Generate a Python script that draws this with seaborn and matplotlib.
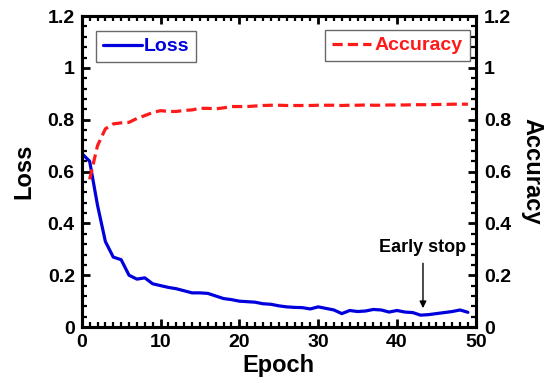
import numpy as np
import pandas as pd
import matplotlib
matplotlib.use("Agg")
import matplotlib.pyplot as plt
import seaborn as sns

# Values
epochs = list(range(50))
loss = [0.67, 0.64, 0.47, 0.33, 0.27, 0.26, 0.20, 0.185, 0.19, 0.167,
        0.16, 0.153, 0.148, 0.14, 0.132, 0.132, 0.13, 0.12, 0.11, 0.106,
        0.10, 0.098, 0.096, 0.09, 0.088, 0.082, 0.078, 0.076, 0.075, 0.07,
        0.078, 0.072, 0.066, 0.052, 0.064, 0.06, 0.062, 0.068, 0.066, 0.058,
        0.064, 0.058, 0.056, 0.046, 0.048, 0.052, 0.056, 0.06, 0.066, 0.057]
acc_epochs = list(range(1, 50))
accuracy = [0.57, 0.70, 0.765, 0.784, 0.788, 0.79, 0.805, 0.816, 0.828,
            0.835, 0.832, 0.832, 0.836, 0.838, 0.844, 0.844, 0.842, 0.846, 0.851,
            0.851, 0.851, 0.853, 0.855, 0.856, 0.856, 0.855, 0.855, 0.855, 0.855,
            0.856, 0.856, 0.856, 0.855, 0.856, 0.856, 0.857, 0.856, 0.856, 0.857,
            0.857, 0.857, 0.858, 0.858, 0.858, 0.859, 0.859, 0.86, 0.86, 0.86]

loss_df = pd.DataFrame({"Epoch": epochs, "Loss": loss})
acc_df = pd.DataFrame({"Epoch": acc_epochs, "Accuracy": accuracy})

sns.set_style("ticks", {"text.color": "black", "axes.labelcolor": "black",
                        "xtick.color": "black", "ytick.color": "black",
                        "axes.edgecolor": "black"})
plt.rcParams["font.family"] = ["Liberation Sans", "DejaVu Sans"]
plt.rcParams["font.weight"] = "bold"
plt.rcParams["axes.labelweight"] = "bold"

fig = plt.figure(figsize=(5.45, 3.83), dpi=100)
ax = fig.add_axes([0.150, 0.146, 0.723, 0.812])
ax2 = ax.twinx()

sns.lineplot(data=loss_df, x="Epoch", y="Loss", ax=ax, color="#0000dd",
             linewidth=2.3, label="Loss", legend=False)
sns.lineplot(data=acc_df, x="Epoch", y="Accuracy", ax=ax2, color="#ff1a1a",
             linewidth=2.3, linestyle=(0, (3.2, 1.6)), label="Accuracy", legend=False)

for a in (ax, ax2):
    a.set_ylim(0, 1.2)
    a.set_yticks([0, 0.2, 0.4, 0.6, 0.8, 1.0, 1.2])
    a.set_yticklabels(["0", "0.2", "0.4", "0.6", "0.8", "1", "1.2"])
    a.yaxis.set_minor_locator(matplotlib.ticker.MultipleLocator(0.04))
    for s in a.spines.values():
        s.set_linewidth(2.2)
        s.set_color("black")
        s.set_visible(True)
ax.set_xlim(0, 50)
ax.set_xticks([0, 10, 20, 30, 40, 50])
ax.xaxis.set_minor_locator(matplotlib.ticker.MultipleLocator(1))

ax.tick_params(axis="both", which="major", direction="in", length=6, width=2,
               labelsize=14, top=True, pad=5, colors="black")
ax.tick_params(axis="both", which="minor", direction="in", length=3.5, width=1.6,
               top=True, colors="black")
ax.tick_params(axis="y", which="both", right=False)
ax2.tick_params(axis="y", which="major", direction="in", length=6, width=2,
                labelsize=14, pad=6, colors="black")
ax2.tick_params(axis="y", which="minor", direction="in", length=3.5, width=1.6,
                colors="black")

ax.set_xlabel("Epoch", fontsize=17, fontweight="bold", labelpad=2, color="black")
ax.set_ylabel("Loss", fontsize=17, fontweight="bold", labelpad=9, color="black")
ax2.set_ylabel("Accuracy", fontsize=17, fontweight="bold", rotation=270,
               labelpad=23, color="black")

leg1 = ax.legend(loc="upper left", bbox_to_anchor=(0.036, 0.952), borderaxespad=0,
                 fontsize=14, handlelength=2.0, handletextpad=0.1,
                 fancybox=False, edgecolor="#444444", borderpad=0.35,
                 labelcolor="linecolor")
leg1.get_frame().set_linewidth(1.0)
leg2 = ax2.legend(loc="upper right", bbox_to_anchor=(0.985, 0.955), borderaxespad=0,
                  fontsize=14, handlelength=2.0, handletextpad=0.2,
                  fancybox=False, edgecolor="#444444", borderpad=0.35,
                  labelcolor="linecolor")
leg2.get_frame().set_linewidth(1.0)

ax.annotate("Early stop", xy=(43.3, 0.073), xytext=(43.3, 0.275),
            ha="center", va="bottom", fontsize=13, fontweight="bold", color="black",
            arrowprops=dict(arrowstyle="-|>", color="black", lw=1.0,
                            mutation_scale=10, shrinkA=3, shrinkB=0))

fig.savefig("out.png", dpi=100)
